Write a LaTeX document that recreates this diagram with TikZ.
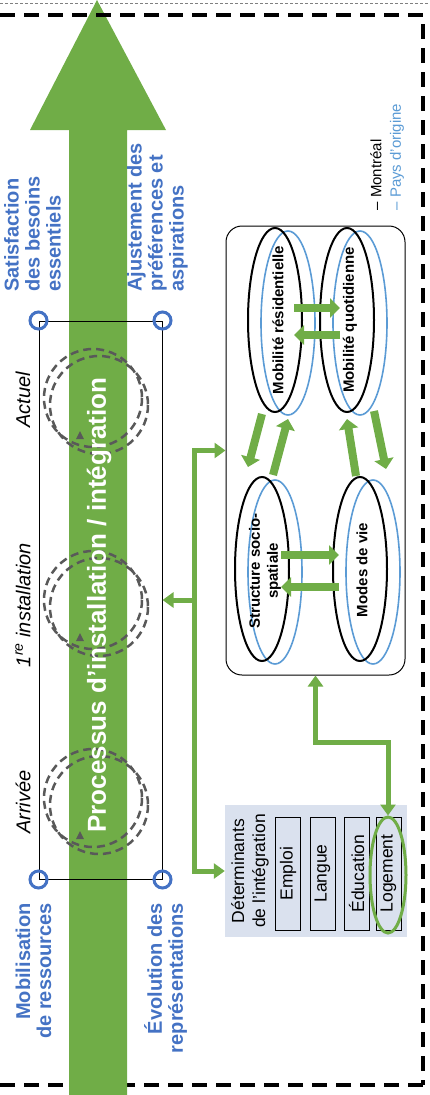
\documentclass[tikz,border=0pt]{standalone}
\usepackage{fontspec}
\setmainfont{Liberation Sans}
\usepackage{tikz}
\usetikzlibrary{arrows.meta,positioning,calc,shapes.geometric}
\definecolor{grn}{HTML}{70AD47}
\definecolor{blu}{HTML}{4472C4}
\definecolor{lblu}{HTML}{5B9BD5}
\definecolor{gry}{HTML}{595959}
\definecolor{detfill}{HTML}{DAE1EE}

\begin{document}
\begin{tikzpicture}[
  x=1pt, y=-1pt,
  ring/.style={circle, draw=blu, line width=3pt, minimum size=17pt, inner sep=0pt},
  blab/.style={rotate=90, text=blu, font=\bfseries\fontsize{20}{21}\selectfont},
  stage/.style={rotate=90, font=\itshape\fontsize{20}{24}\selectfont},
  cyc/.style={draw=gry, line width=2.5pt, dash pattern=on 8pt off 5pt},
  ell/.style={ellipse, draw, line width=2pt, minimum width=54pt, minimum height=184pt, inner sep=0pt},
  ellb/.style={ellipse, draw=lblu, line width=1.6pt, minimum width=54pt, minimum height=184pt, inner sep=0pt},
  etxt/.style={rotate=90, align=center, font=\bfseries\fontsize{15}{18}\selectfont},
  blk/.style={grn, line width=8pt, >={Triangle[length=10pt,width=19pt]}, ->},
  conn/.style={grn, line width=5pt, >={Triangle[length=11pt,width=15pt]}},
  sub/.style={draw, fill=detfill, rotate=90, minimum width=113pt, minimum height=25pt, inner sep=0pt, font=\fontsize{17.5}{20}\selectfont},
  lgd/.style={rotate=90, anchor=west, font=\fontsize{15}{18}\selectfont}
]
\useasboundingbox (0,0) rectangle (429,1095);
\draw[densely dashed, line width=0.4pt, gray] (0,3) -- (429,3);
\draw[line width=3.5pt, dash pattern=on 15pt off 9pt] (423,1085) -- (0,1085);
\fill[grn] (69,1095) -- (69,130) -- (30,130) -- (97,0) -- (166,130) -- (127,130) -- (127,1095) -- cycle;
\draw[line width=3.5pt, dash pattern=on 15pt off 9pt] (0,15) -- (423,15) -- (423,1085);

\node[draw, line width=1pt, minimum width=123pt, minimum height=558pt, inner sep=0pt] (cadre) at (100.5,600) {};
\foreach \y in {398,600,798} {
  \draw[cyc] (93,\y) circle (49);
  \draw[cyc] (99,\y+7) circle (49);
  \fill[gry] (80,\y+33) -- ++(-4,8) -- ++(8,0) -- cycle;
}
\node[rotate=90, text=white, font=\bfseries\fontsize{26}{30}\selectfont] (proc) at (99,605) {Processus d’installation / intégration};

\node[ring] (r1) at (cadre.north west) {};
\node[ring] (r2) at (cadre.north east) {};
\node[ring] (r3) at (cadre.south west) {};
\node[ring] (r4) at (cadre.south east) {};
\node[blab, anchor=west, align=left] (sat) at ($(r1)+(-6,-25)$) {Satisfaction\\des besoins\\essentiels};
\node[blab, anchor=west, align=left] (aju) at ($(r2)+(-5,-25)$) {Ajustement des\\préférences et\\aspirations};
\node[blab, anchor=east, align=right] (mob) at ($(r3)+(-5,20)$) {Mobilisation\\de ressources};
\node[blab, anchor=east, align=right] (evo) at ($(r4)+(3,20)$) {Évolution des\\représentations};

\node[stage] (act) at (23,400) {Actuel};
\node[stage] (ins) at (23,605) {1\textsuperscript{re} installation};
\node[stage] (arr) at (23,802) {Arrivée};

\node[draw, line width=1pt, rounded corners=16pt, minimum width=179pt, minimum height=449pt] (sys) at (315.5,450.5) {};
\foreach \n/\x/\y in {mr/275/320, mq/347/320, ss/262/569, mv/360/569} {
  \node[ellb] (\n b) at (\x+13,\y+3) {};
  \node[ell] (\n) at (\x,\y) {};
}
\node[etxt] (mrt) at ($(mr)+(3,0)$) {Mobilité résidentielle};
\node[etxt] (mqt) at ($(mq)+(3,0)$) {Mobilité quotidienne};
\node[etxt] (sst) at ($(ss)+(3,2)$) {Structure socio-\\spatiale};
\node[etxt] (mvt) at ($(mv)+(2,1)$) {Modes de vie};

\draw[blk] ($(mr.east)+(-9,-12)$) -- ($(mq.west)+(21,-12)$);
\draw[blk] ($(mq.west)+(21,15)$) -- ($(mr.east)+(-9,15)$);
\draw[blk] ($(ss.east)+(-9,-14)$) -- ($(mv.west)+(7,-14)$);
\draw[blk] ($(mv.west)+(7,18)$) -- ($(ss.east)+(-9,18)$);
\draw[blk] ($(mr.south)+(-13,1)$) -- ($(ss.north)+(-14,-9)$);
\draw[blk] ($(ss.north)+(11,-1)$) -- ($(mr.south)+(13,6)$);
\draw[blk] ($(mv.north)+(-4,0)$) -- ($(mq.south)+(0,6)$);
\draw[blk] ($(mq.south)+(27,-2)$) -- ($(mv.north)+(26,-7)$);

\node[lgd] (lgm) at (376,214) {– Montréal};
\node[lgd, text=lblu] (lgp) at (397,214) {– Pays d'origine};

\node[fill=detfill, minimum width=182pt, minimum height=132pt] (det) at (316,871) {};
\node[rotate=90, align=center, font=\fontsize{17.5}{21}\selectfont] (dett) at (250,871) {Déterminants\\de l'intégration};
\foreach \t/\x [count=\i] in {Emploi/288, Langue/322.5, Éducation/356.5, Logement/388.5}
  \node[sub] (d\i) at (\x,873.5) {\t};
\node[ellipse, draw=grn, line width=3pt, minimum width=36pt, minimum height=116pt, inner sep=0pt] (lge) at (388,875) {};

\coordinate (jx) at (194,0);
\draw[conn, <->] (sys.west) -| (jx |- det.west) -- (det.west);
\draw[conn, ->] (jx |- cadre.east) -- (cadre.east);
\draw[conn, <->] (sys.south) -- ++(0,67) -| (lge.north);
\end{tikzpicture}
\end{document}
